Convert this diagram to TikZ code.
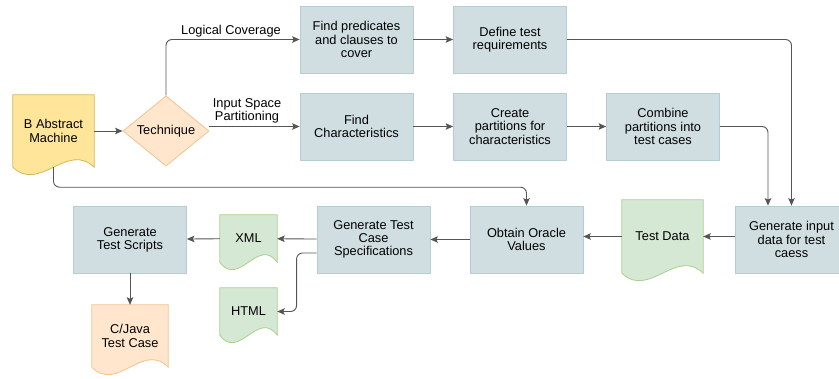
\documentclass[tikz,border=0pt]{standalone}
\usepackage{fontspec}
\setmainfont{Liberation Sans}
\usetikzlibrary{shapes.geometric,arrows.meta,calc,backgrounds}

\definecolor{boxfill}{HTML}{D0DEE2}
\definecolor{boxline}{HTML}{B6CCD3}
\definecolor{yelfill}{HTML}{FFE599}
\definecolor{yelline}{HTML}{D6B656}
\definecolor{orafill}{HTML}{FFE6CC}
\definecolor{oraline}{HTML}{F5C28E}
\definecolor{grnfill}{HTML}{D5E8D4}
\definecolor{grnline}{HTML}{A9D18E}
\definecolor{wire}{HTML}{555555}

\tikzset{
	box/.style={draw=boxline, fill=boxfill, line width=0.8pt, minimum width=113pt, minimum height=67pt, inner sep=0pt, align=center},
	docbox/.style={inner sep=0pt, align=center},
	decision/.style={diamond, draw=oraline, fill=orafill, line width=0.8pt, minimum width=86pt, minimum height=70pt, inner sep=0pt},
	arr/.style={->, draw=wire, line width=0.9pt, rounded corners=6pt},
	lbl/.style={align=center, inner sep=1pt}
}

% document shape with wavy bottom drawn round a named node
\newcommand{\docwave}[2]{%
	\path[#2, line width=0.8pt] (#1.north west) -- (#1.north east) -- (#1.south east)
		.. controls ($(#1.south east)!0.333!(#1.south west)+(0,26)$)
		and ($(#1.south east)!0.667!(#1.south west)+(0,-26)$) .. (#1.south west) -- cycle;}

\begin{document}
\begin{tikzpicture}[x=1pt, y=1pt, >={Stealth[length=7.5pt,width=6.5pt,inset=1.5pt]}, font=\fontsize{12.8}{13.2}\selectfont, line join=round]
	\useasboundingbox (0,0) rectangle (839,-378);
	% top part
	\node[docbox, minimum width=81pt, minimum height=72pt] (abs) at (53.5,-131) {B Abstract\\Machine};
	\node[decision] (tech) at (166,-131) {Technique};
	\node[box] (pred) at (356.5,-39.5) {Find predicates\\and clauses to\\cover};
	\node[box] (req) at (510,-39.5) {Define test\\requirements};
	\node[box] (chars) at (356.5,-126.5) {Find\\Characteristics};
	\node[box] (parts) at (510,-126.5) {Create\\partitions for\\characteristics};
	\node[box] (comb) at (663,-126.5) {Combine\\partitions into\\test cases};
	% bottom part
	\node[box] (geninput) at (791.5,-239.5) {Generate input\\data for test\\caess};
	\node[docbox, minimum width=81pt, minimum height=73pt] (testdata) at (662.5,-236.5) {Test Data};
	\node[box] (obtain) at (526.5,-239.5) {Obtain Oracle\\Values};
	\node[box] (spec) at (373.5,-239.5) {Generate Test\\Case\\Specifications};
	\node[docbox, minimum width=57pt, minimum height=47pt] (xml) at (248.5,-238.5) {XML};
	\node[docbox, minimum width=57pt, minimum height=47pt] (html) at (248.5,-311.5) {HTML};
	\node[box] (scripts) at (130,-239.5) {Generate\\Test Scripts};
	\node[docbox, minimum width=76pt, minimum height=62pt] (cjava) at (130,-336) {C/Java\\Test Case};

	\begin{scope}[on background layer]
		\docwave{abs}{draw=yelline, fill=yelfill}
		\docwave{testdata}{draw=grnline, fill=grnfill}
		\docwave{xml}{draw=grnline, fill=grnfill}
		\docwave{html}{draw=grnline, fill=grnfill}
		\docwave{cjava}{draw=oraline, fill=orafill}
	\end{scope}

	% connectors
	\draw[arr] (abs) -- (tech);
	\draw[arr] (tech.north) |- (pred.west);
	\node[lbl] (logic) at (231,-31) {Logical Coverage};
	\draw[arr] (tech.east |- chars.west) -- (chars.west);
	\node[lbl] (isp) at (247,-111) {Input Space\\Partitioning};
	\draw[arr] (pred) -- (req);
	\draw[arr] (chars) -- (parts);
	\draw[arr] (parts) -- (comb);
	\draw[arr] (req.east) -| (geninput.north);
	\draw[arr] (comb.east) -| ($(geninput.north)+(-23.5,0)$);
	\draw[arr] (geninput.west |- testdata.east) -- (testdata.east);
	\draw[arr] (testdata.west) -- (testdata.west -| obtain.east);
	\draw[arr] (obtain) -- (spec);
	\draw[arr] (spec) -- (xml);
	\draw[arr] (xml) -- (scripts);
	\draw[arr] ($(spec.west)+(0,-13.5)$) -- ++(-20,0) |- (html.east);
	\draw[arr] (scripts) -- (cjava);
	\draw[arr] (abs.south) -- ++(0,-20) -| (obtain.north);
\end{tikzpicture}
\end{document}
